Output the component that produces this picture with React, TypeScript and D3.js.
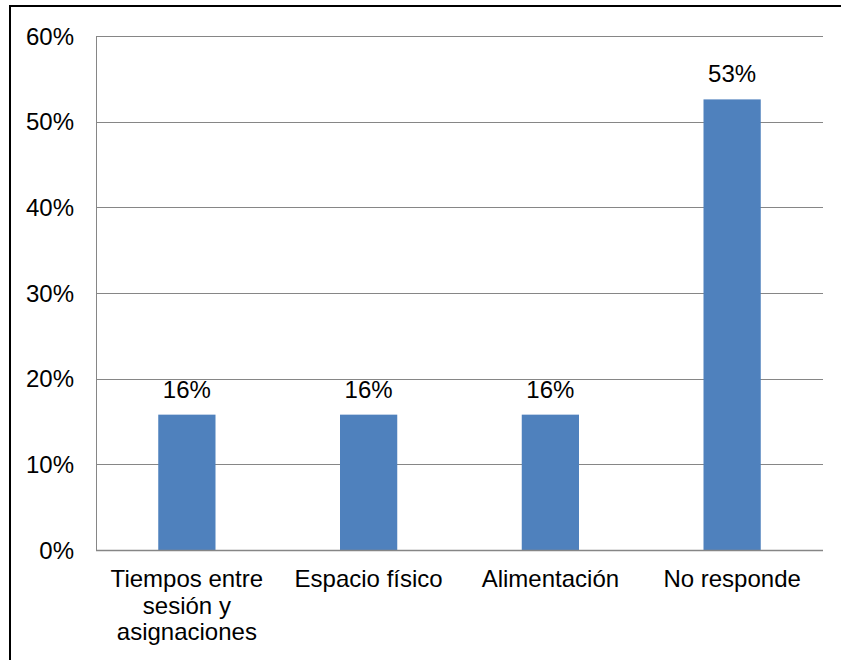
import React from "react";
import * as d3 from "d3";

const categories: string[][] = [
  ["Tiempos entre", "sesión y", "asignaciones"],
  ["Espacio físico"],
  ["Alimentación"],
  ["No responde"],
];
const values: number[] = [0.158, 0.158, 0.158, 0.526];
const dataLabels: string[] = ["16%", "16%", "16%", "53%"];
const yTicks: number[] = [0, 0.1, 0.2, 0.3, 0.4, 0.5, 0.6];

const W = 841;
const H = 660;
const plot = { left: 96, right: 823, top: 36, bottom: 550 };
const FONT = "'Liberation Sans', Arial, sans-serif";
const FS = 24;

export default function App() {
  const x = d3
    .scaleBand<number>()
    .domain(d3.range(categories.length))
    .range([plot.left, plot.right])
    .padding(0);
  const y = d3.scaleLinear().domain([0, 0.6]).range([plot.bottom, plot.top]);
  const barW = x.bandwidth() * 0.315;
  const fmt = d3.format(".0%");
  const grid = "#868686";

  return (
    <div style={{ position: "fixed", left: 0, top: 0, width: W, height: H, overflow: "hidden", background: "#fff" }}>
      <svg width={W} height={H} style={{ display: "block" }} fontFamily={FONT}>
        <path d={`M10,${H + 5} V6 H${W + 5}`} fill="none" stroke="#000" strokeWidth={2} />
        {yTicks.map((t) => (
          <g key={t}>
            {t > 0 && (
              <line x1={plot.left} x2={plot.right} y1={Math.round(y(t)) + 0.5} y2={Math.round(y(t)) + 0.5} stroke={grid} strokeWidth={1} />
            )}
            <text x={74} y={y(t)} dy="0.36em" textAnchor="end" fontSize={FS} fill="#000">
              {fmt(t)}
            </text>
          </g>
        ))}
        {values.map((v, i) => {
          const cx = (x(i) as number) + x.bandwidth() / 2;
          return (
            <g key={i}>
              <rect x={cx - barW / 2} y={y(v)} width={barW} height={plot.bottom - y(v)} fill="#4F81BD" />
              <text x={cx} y={y(v) - 17} textAnchor="middle" fontSize={FS} fill="#000">
                {dataLabels[i]}
              </text>
              {categories[i].map((line, j) => (
                <text key={j} x={cx} y={587 + j * 26.5} textAnchor="middle" fontSize={FS} fill="#000">
                  {line}
                </text>
              ))}
            </g>
          );
        })}
        <line x1={plot.left + 0.5} x2={plot.left + 0.5} y1={plot.top} y2={plot.bottom} stroke={grid} strokeWidth={1} />
        <line x1={plot.left} x2={plot.right} y1={plot.bottom + 0.5} y2={plot.bottom + 0.5} stroke={grid} strokeWidth={1.5} />
      </svg>
    </div>
  );
}
